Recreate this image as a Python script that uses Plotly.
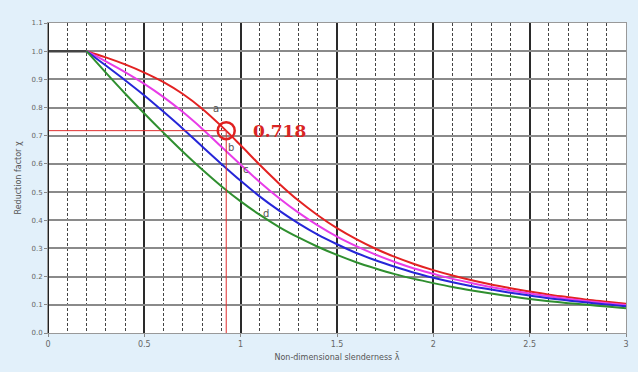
import plotly.graph_objects as go

# Non-dimensional slenderness values
lam = [0.2, 0.3, 0.4, 0.5, 0.6, 0.7, 0.8, 0.9, 1.0, 1.1, 1.2, 1.3, 1.4, 1.5,
       1.6, 1.7, 1.8, 1.9, 2.0, 2.1, 2.2, 2.3, 2.4, 2.5, 2.6, 2.7, 2.8, 2.9, 3.0]

# Reduction factor for buckling curves a, b, c, d
chi_a = [1.000, 0.978, 0.953, 0.924, 0.890, 0.848, 0.796, 0.734, 0.666, 0.596,
         0.530, 0.470, 0.418, 0.372, 0.333, 0.299, 0.270, 0.245, 0.223, 0.204,
         0.187, 0.172, 0.159, 0.147, 0.136, 0.127, 0.118, 0.111, 0.104]
chi_b = [1.000, 0.964, 0.926, 0.884, 0.837, 0.784, 0.725, 0.661, 0.597, 0.535,
         0.478, 0.427, 0.382, 0.342, 0.308, 0.278, 0.252, 0.229, 0.210, 0.192,
         0.177, 0.163, 0.151, 0.140, 0.130, 0.121, 0.113, 0.106, 0.099]
chi_c = [1.000, 0.949, 0.897, 0.843, 0.785, 0.725, 0.662, 0.600, 0.540, 0.484,
         0.434, 0.389, 0.349, 0.315, 0.284, 0.258, 0.235, 0.214, 0.196, 0.180,
         0.166, 0.154, 0.143, 0.133, 0.123, 0.115, 0.108, 0.101, 0.095]
chi_d = [1.000, 0.924, 0.850, 0.779, 0.710, 0.643, 0.580, 0.521, 0.467, 0.419,
         0.376, 0.339, 0.306, 0.277, 0.251, 0.229, 0.209, 0.192, 0.177, 0.163,
         0.151, 0.140, 0.130, 0.121, 0.113, 0.106, 0.100, 0.094, 0.088]

curve_names = ["a", "b", "c", "d"]
curve_colors = ["#e32222", "#e83ce8", "#2626d8", "#2f8f2f"]

# Plateau below the limit slenderness
plateau_x = [0.0, 0.2]
plateau_y = [1.0, 1.0]

# Marked design point on curve a
point_lam = 0.925
point_chi = 0.718
point_text = "0.718"

# Curve label positions (slenderness, reduction factor)
label_x = [0.87, 0.95, 1.03, 1.13]
label_y = [0.795, 0.66, 0.58, 0.425]

x_ticks = [0, 0.5, 1, 1.5, 2, 2.5, 3]
x_tick_text = ["0", "0.5", "1", "1.5", "2", "2.5", "3"]

fig = go.Figure()

fig.add_trace(go.Scatter(x=plateau_x, y=plateau_y, mode="lines",
                         line=dict(color="#444444", width=2.5), showlegend=False))

for name, ys, col in zip(curve_names, [chi_a, chi_b, chi_c, chi_d], curve_colors):
    fig.add_trace(go.Scatter(x=lam, y=ys, mode="lines", name=name,
                             line=dict(color=col, width=2, shape="spline"),
                             showlegend=False))

# Guide lines to the design point
fig.add_trace(go.Scatter(x=[0, point_lam], y=[point_chi, point_chi], mode="lines",
                         line=dict(color="#e03030", width=1), showlegend=False))
fig.add_trace(go.Scatter(x=[point_lam, point_lam], y=[0, point_chi], mode="lines",
                         line=dict(color="#e03030", width=1), showlegend=False))
fig.add_trace(go.Scatter(x=[point_lam], y=[point_chi], mode="markers",
                         marker=dict(size=17, color="rgba(0,0,0,0)",
                                     line=dict(color="#e02020", width=2.5)),
                         showlegend=False))

fig.add_annotation(x=1.055, y=point_chi, xanchor="left", yanchor="middle",
                   text="<b>" + point_text + "</b>", showarrow=False,
                   font=dict(family="DejaVu Serif", size=17, color="#d92424"))

for name, lx, ly in zip(curve_names, label_x, label_y):
    fig.add_annotation(x=lx, y=ly, text=name, showarrow=False,
                       font=dict(family="DejaVu Sans", size=10, color="#555555"))

fig.update_xaxes(range=[0, 3], tickvals=x_ticks, ticktext=x_tick_text,
                 showgrid=True, gridcolor="#2a2a2a", gridwidth=1.5,
                 minor=dict(dtick=0.1, showgrid=True, gridcolor="#444444",
                            griddash="3px,2px", gridwidth=1),
                 ticks="outside", ticklen=3, tickcolor="#888888",
                 showline=True, linecolor="#999999", linewidth=1, mirror=True,
                 zeroline=False,
                 tickfont=dict(family="DejaVu Sans", size=8, color="#666666"),
                 title=dict(text="Non-dimensional slenderness λ̄", standoff=6,
                            font=dict(family="DejaVu Sans", size=8, color="#555555")))
fig.update_yaxes(range=[0, 1.1], dtick=0.1, tickformat=".1f",
                 showgrid=True, gridcolor="#8a8a8a", gridwidth=2,
                 ticks="outside", ticklen=3, tickcolor="#888888",
                 showline=True, linecolor="#999999", linewidth=1, mirror=True,
                 zeroline=False,
                 tickfont=dict(family="DejaVu Sans", size=7, color="#666666"),
                 title=dict(text="Reduction factor χ", standoff=8,
                            font=dict(family="DejaVu Sans", size=8, color="#555555")))

# Dark vertical axis line at zero slenderness
fig.add_shape(type="line", x0=0, x1=0, y0=0, y1=1.1, xref="x", yref="y",
              line=dict(color="#222222", width=2), layer="above")

fig.update_layout(width=638, height=372,
                  margin=dict(l=48, r=9, t=23, b=39),
                  paper_bgcolor="#e2f0fa", plot_bgcolor="#ffffff")

fig.write_html("out.html")
